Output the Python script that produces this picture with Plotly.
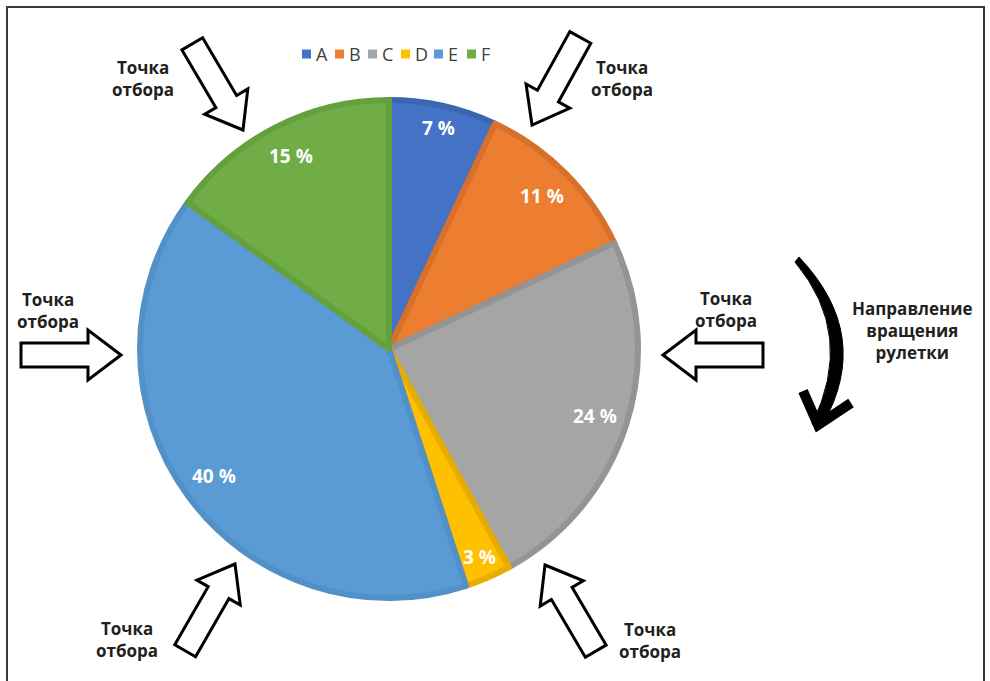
import math
import plotly.graph_objects as go

W, H = 990, 681

# Roulette sectors and their shares (percent)
categories = ["A", "B", "C", "D", "E", "F"]
shares = [7, 11, 24, 3, 40, 15]

fill_colors = ["#4472C4", "#ED7D31", "#A5A5A5", "#FFC000", "#5B9BD5", "#70AD47"]
edge_colors = ["#3D66B0", "#D6702B", "#949494", "#E6AD00", "#5290C8", "#65A03F"]

pick_label = "Точка<br>отбора"
spin_label = "Направление<br>вращения<br>рулетки"

# Pie geometry in pixels
CX, CY, R = 389, 349, 252
EDGE_W = 6
RP = R - EDGE_W / 2


def px(x):
    return x / W


def py(y):
    return 1 - y / H


fig = go.Figure()

fig.add_trace(go.Pie(
    labels=categories,
    values=shares,
    sort=False,
    direction="clockwise",
    rotation=0,
    textinfo="none",
    hoverinfo="label+percent",
    marker=dict(colors=fill_colors, line=dict(color=edge_colors, width=EDGE_W)),
    domain=dict(x=[px(CX - RP), px(CX + RP)], y=[py(CY + RP), py(CY - RP)]),
    showlegend=False,
))

annotations = []
shapes = []

# Percentage labels placed along each sector's middle angle
total = sum(shares)
cum = 0
for v in shares:
    mid = (cum + v / 2) / total * 2 * math.pi
    cum += v
    r_lab = (0.9 if v < 10 else 0.86) * R
    x = CX + r_lab * math.sin(mid)
    y = CY - r_lab * math.cos(mid)
    annotations.append(dict(
        x=px(x), y=py(y), xref="paper", yref="paper", showarrow=False,
        text=f"{v} %", xanchor="center", yanchor="middle",
        font=dict(family="Open Sans", size=19, color="white", weight="bold"),
    ))

# Legend row: colour squares with category letters
LEG_X0, LEG_Y, LEG_STEP, SQ = 302, 54, 33, 9
for i, (cat, col) in enumerate(zip(categories, fill_colors)):
    sx = LEG_X0 + i * LEG_STEP
    shapes.append(dict(
        type="rect", xref="paper", yref="paper",
        x0=px(sx), x1=px(sx + SQ), y0=py(LEG_Y + SQ / 2), y1=py(LEG_Y - SQ / 2),
        fillcolor=col, line=dict(width=0),
    ))
    annotations.append(dict(
        x=px(sx + SQ + 3), y=py(LEG_Y), xref="paper", yref="paper", showarrow=False,
        text=cat, xanchor="left", yanchor="middle",
        font=dict(family="Open Sans", size=18, color="#404040"),
    ))


def block_arrow(tip, direction, length=100, shaft=24, head=50, head_len=33):
    tx, ty = tip
    dx, dy = direction
    n = math.hypot(dx, dy)
    ux, uy = dx / n, dy / n
    nx, ny = -uy, ux
    neck = (tx - ux * head_len, ty - uy * head_len)
    tail = (tx - ux * length, ty - uy * length)
    pts = [
        (tail[0] + nx * shaft / 2, tail[1] + ny * shaft / 2),
        (neck[0] + nx * shaft / 2, neck[1] + ny * shaft / 2),
        (neck[0] + nx * head / 2, neck[1] + ny * head / 2),
        (tx, ty),
        (neck[0] - nx * head / 2, neck[1] - ny * head / 2),
        (neck[0] - nx * shaft / 2, neck[1] - ny * shaft / 2),
        (tail[0] - nx * shaft / 2, tail[1] - ny * shaft / 2),
    ]
    path = "M " + " L ".join(f"{px(x):.5f},{py(y):.5f}" for x, y in pts) + " Z"
    return dict(type="path", xref="paper", yref="paper", path=path,
                fillcolor="white", line=dict(color="black", width=3))


# Pick-point arrows (tip position, pointing direction) and their captions
pick_arrows = [
    ((243, 130), (50, 85)),
    ((532, 125), (-48, 87)),
    ((663, 355), (-1, 0)),
    ((121, 355), (1, 0)),
    ((235, 564), (50, -87)),
    ((545, 565), (-50, -85)),
]
pick_captions = [(143, 78), (622, 78), (726, 309), (48, 310), (127, 639), (650, 640)]

for tip, d in pick_arrows:
    shapes.append(block_arrow(tip, d))

for x, y in pick_captions:
    annotations.append(dict(
        x=px(x), y=py(y), xref="paper", yref="paper", showarrow=False,
        text=pick_label, xanchor="center", yanchor="middle", align="center",
        font=dict(family="Open Sans", size=17, color="#231F20", weight="bold"),
    ))

# Curved rotation-direction arrow
def pt(x, y):
    return f"{px(x):.5f},{py(y):.5f}"

crescent = (f"M {pt(799, 257)} Q {pt(873, 335)} {pt(823, 424)} "
            f"L {pt(812, 424)} Q {pt(856, 335)} {pt(795, 262)} Z")
shapes.append(dict(type="path", xref="paper", yref="paper", path=crescent,
                   fillcolor="black", line=dict(color="black", width=1)))
head = f"M {pt(803, 391)} L {pt(818, 425)} L {pt(851, 403)}"
shapes.append(dict(type="path", xref="paper", yref="paper", path=head,
                   line=dict(color="black", width=10)))

annotations.append(dict(
    x=px(912), y=py(330), xref="paper", yref="paper", showarrow=False,
    text=spin_label, xanchor="center", yanchor="middle", align="center",
    font=dict(family="Open Sans", size=17, color="#231F20", weight="bold"),
))

# Outer frame (left, top, right)
frame = f"M {pt(7, 681)} L {pt(7, 7)} L {pt(984, 7)} L {pt(984, 681)}"
shapes.append(dict(type="path", xref="paper", yref="paper", path=frame,
                   line=dict(color="#3A3A3A", width=2)))

fig.update_layout(
    width=W, height=H, autosize=False,
    margin=dict(l=0, r=0, t=0, b=0),
    paper_bgcolor="white", plot_bgcolor="white",
    shapes=shapes, annotations=annotations,
    showlegend=False,
)

fig.write_html("out.html")
